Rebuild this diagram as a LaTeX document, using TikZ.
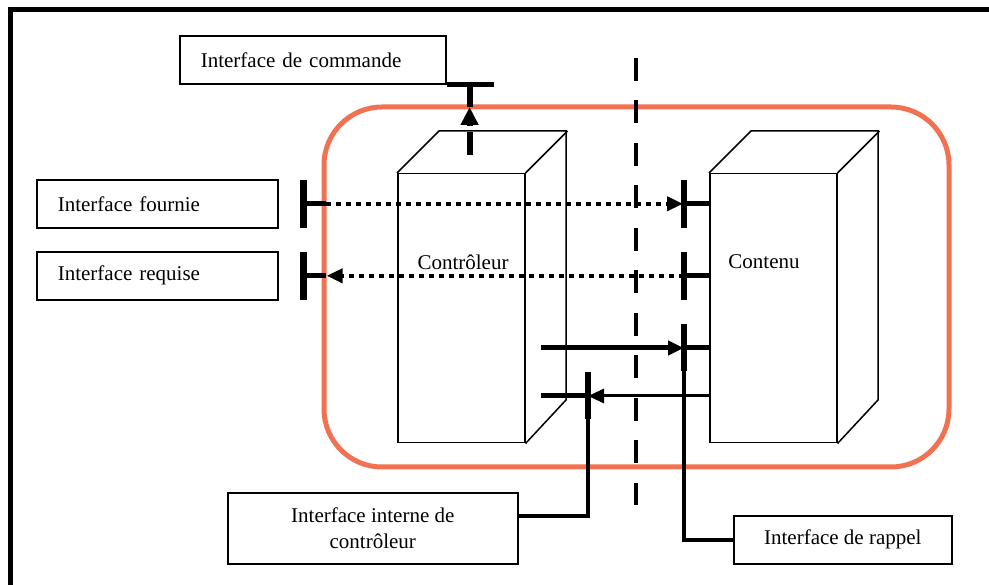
\documentclass[tikz,border=0pt]{standalone}
\usepackage{fontspec}
\setmainfont{Liberation Serif}
\usetikzlibrary{arrows.meta,calc}
\definecolor{compborder}{RGB}{240,114,82}
\begin{document}
\begin{tikzpicture}[x=1pt,y=-1pt,
  txt/.style={font=\fontsize{21}{26}\selectfont},
  ibox/.style={txt, draw, line width=1.6pt, fill=white, inner sep=0pt},
  leftbox/.style={ibox, align=left, inner xsep=21pt, minimum height=48pt, anchor=north west},
  face/.style={draw, line width=1.5pt, inner sep=0pt, anchor=north west,
               minimum width=127pt, minimum height=269pt},
  edge/.style={line width=1.5pt, line join=miter},
  tbar/.style={line width=6.5pt},
  stub/.style={line width=5pt},
  thinlink/.style={line width=3.5pt},
  dots/.style={line width=4pt, dash pattern=on 5pt off 5pt},
  tip/.style={-{Triangle[length=16pt,width=14pt]}},
  separator/.style={line width=4.5pt, dash pattern=on 23pt off 19.5pt},
  component/.style={draw=compborder, line width=5pt, rounded corners=58pt}
]
\useasboundingbox (0,0) rectangle (989,585);

% page frame
\draw[line width=4.4pt] (10.5,600) -- (10.5,9.5) -- (1000,9.5);

% composite component
\draw[component] (324,107) rectangle (949,467);

% controller and content blocks
\node[face] (ctrl) at (397,173) {};
\draw[edge] (ctrl.north west) -- ++(42,-42) -- ++(127,0) -- ++(0,269) -- (ctrl.south east);
\draw[edge] (ctrl.north east) -- ++(42,-42);
\node[txt] (ctrllabel) at (463,262) {Contrôleur};

\node[face] (cont) at (709,173) {};
\draw[edge] (cont.north west) -- ++(42,-42) -- ++(127,0) -- ++(0,269) -- (cont.south east);
\draw[edge] (cont.north east) -- ++(42,-42);
\node[txt] (contlabel) at (764,262) {Contenu};

% separator between controller and content
\coordinate (septop) at (636,58);
\coordinate (sepbot) at (636,505);
\draw[separator] (septop) -- (sepbot);

% interface boxes
\node[leftbox, text width=224pt] (cmd) at (179,35) {Interface de commande};
\node[leftbox, text width=199pt] (fournie) at (36,179) {Interface fournie};
\node[leftbox, text width=199pt] (requise) at (36,251) {Interface requise};
\node[ibox, align=center, minimum width=290pt, minimum height=71pt, anchor=north west]
  (interne) at (227,492) {Interface interne de\\contrôleur};
\node[ibox, minimum width=218pt, minimum height=48pt, anchor=north west]
  (rappel) at (733,515) {Interface de rappel};

% command interface
\coordinate (cmdT) at ($(cmd.south east)+(23,0)$);
\coordinate (cmdbarend) at ($(cmd.south east)+(47,0)$);
\coordinate (cmdtip) at (cmdT |- 0,107);
\coordinate (stemtop) at (cmdT |- 0,132);
\coordinate (stembot) at (cmdT |- 0,155);
\draw[stub] (cmd.south east) -- (cmdbarend);
\draw[tbar, line width=6pt] (cmdT) -- (cmdtip);
\draw[line width=6pt] (stembot) -- (stemtop);
\draw[line width=6pt, -{Triangle[length=18pt,width=17pt]}] ($(cmdtip)+(0,19)$) -- (cmdtip);

% provided interface
\coordinate (fT) at ($(fournie.east)+(25,0)$);
\coordinate (fE) at ($(fT)+(22,0)$);
\coordinate (fC) at ($(cont.west |- fT)+(-25,0)$);
\draw[tbar] ($(fT)+(0,-24)$) -- ($(fT)+(0,24)$);
\draw[stub] (fT) -- (fE);
\draw[dots, tip] (fE) -- ($(fC)+(-1,0)$);
\draw[tbar] ($(fC)+(0,-24)$) -- ($(fC)+(0,24)$);
\draw[stub] (fC) -- (cont.west |- fC);

% required interface
\coordinate (rT) at ($(requise.east)+(25,0)$);
\coordinate (rE) at ($(rT)+(22,0)$);
\coordinate (rC) at ($(cont.west |- rT)+(-25,0)$);
\draw[tbar] ($(rT)+(0,-24)$) -- ($(rT)+(0,24)$);
\draw[stub] (rT) -- (rE);
\draw[dots, tip] (rC) -- ($(rE)+(1,0)$);
\draw[tbar] ($(rC)+(0,-24)$) -- ($(rC)+(0,24)$);
\draw[stub] (rC) -- (cont.west |- rC);

% callback interface
\coordinate (kC) at (684,348);
\coordinate (kS) at (541,348);
\draw[stub, tip] (kS) -- (kC);
\draw[tbar] ($(kC)+(0,-24)$) -- ($(kC)+(0,23)$);
\draw[stub] (kC) -- (cont.west |- kC);
\draw[thinlink] ($(kC)+(0,23)$) |- (rappel.west);

% controller internal interface
\coordinate (iC) at (588,396);
\coordinate (iS) at (541,396);
\draw[stub] (iS) -- (iC);
\draw[line width=3pt, tip] (cont.west |- iC) -- (iC);
\draw[tbar] ($(iC)+(0,-24)$) -- ($(iC)+(0,23)$);
\draw[thinlink] ($(iC)+(0,23)$) |- ([yshift=12.5pt]interne.east);
\end{tikzpicture}
\end{document}
